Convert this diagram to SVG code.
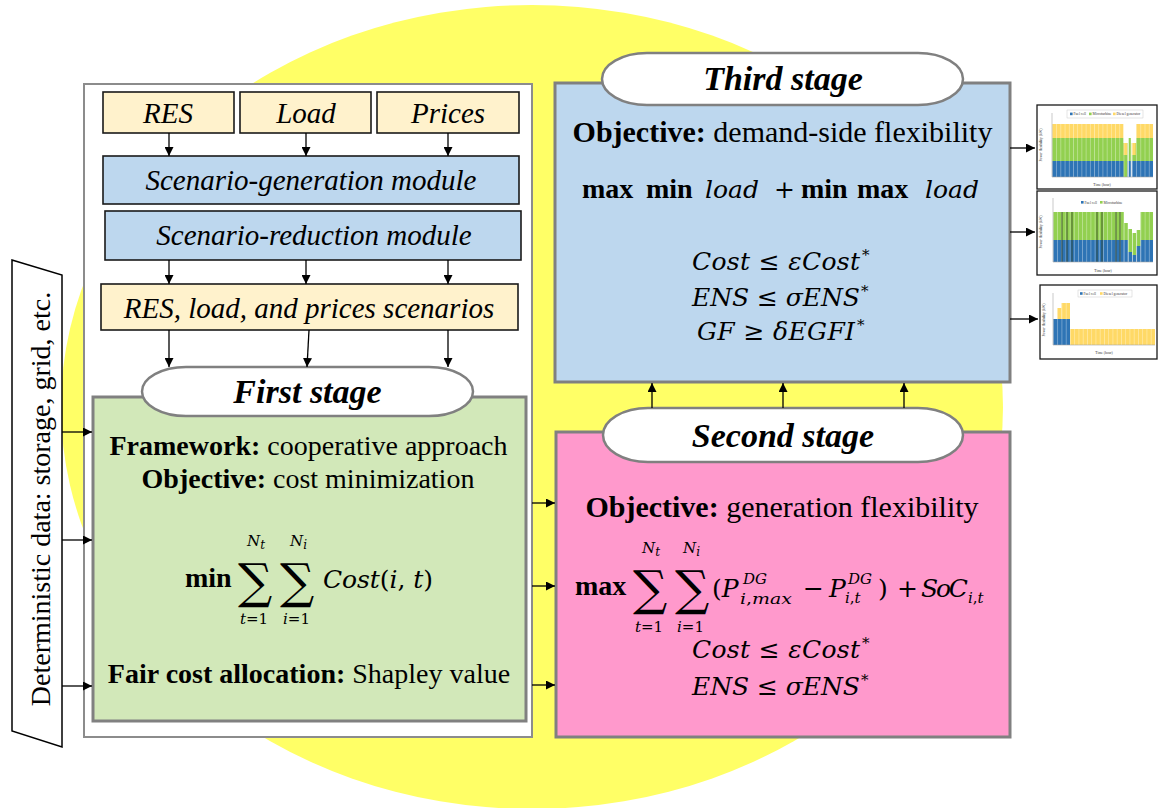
<svg xmlns="http://www.w3.org/2000/svg" width="1158" height="808" viewBox="0 0 1158 808">
  <defs>
    <style>
      .t { font-family: "Liberation Serif", "Times New Roman", serif; font-size: 28px; fill: #000; }
      .it { font-style: italic; font-size: 29px; }
      .b { font-weight: bold; }
      .big { font-size: 30px; }
      .stage { font-family: "Liberation Serif", serif; font-weight: bold; font-style: italic; font-size: 34px; fill: #000; }
      .m { font-family: "DejaVu Serif", serif; font-style: italic; font-size: 25px; fill: #000; }
      .up { font-style: normal; }
      .sum { font-family: "DejaVu Serif", serif; font-size: 48px; fill: #000; }
      .sm { font-family: "DejaVu Serif", serif; font-style: italic; font-size: 15px; fill: #000; }
      .st { font-family: "DejaVu Serif", serif; font-style: normal; font-size: 15px; fill: #000; }
      .in { fill: #fff2cc; stroke: #1a1a1a; stroke-width: 1.6; }
      .mod { fill: #bdd7ee; stroke: #1a1a1a; stroke-width: 1.6; }
      .stbox { stroke: #808080; stroke-width: 3; }
      .pill { fill: #fff; stroke: #808080; stroke-width: 2.5; }
      .arr { stroke: #000; stroke-width: 1.3; fill: none; marker-end: url(#ah); }
      .cf { fill: #fff; stroke: #1a1a1a; stroke-width: 1.3; }
      .ax { stroke: #a6a6a6; stroke-width: 0.6; }
      .lg { font-family: "Liberation Serif", serif; font-size: 3.6px; fill: #333; }
      .blu { fill: #2e74b5; }
      .grn { fill: #92d050; }
      .yel { fill: #ffd966; }
    </style>
    <marker id="ah" viewBox="0 0 10 10" refX="10" refY="5" markerWidth="9" markerHeight="9" markerUnits="userSpaceOnUse" orient="auto">
      <path d="M0,0 L10,5 L0,10 z" fill="#000"/>
    </marker>
    <pattern id="sep1" x="1052" y="0" width="4.2083" height="10" patternUnits="userSpaceOnUse">
      <rect x="0" y="0" width="0.45" height="10" fill="#fff" opacity="0.7"/>
    </pattern>
    <pattern id="sep2" x="1053" y="0" width="4.1667" height="10" patternUnits="userSpaceOnUse">
      <rect x="0" y="0" width="0.45" height="10" fill="#fff" opacity="0.7"/>
    </pattern>
    <pattern id="sep3" x="1053" y="0" width="4.25" height="10" patternUnits="userSpaceOnUse">
      <rect x="0" y="0" width="0.45" height="10" fill="#fff" opacity="0.7"/>
    </pattern>
  </defs>

  <!-- background disc -->
  <ellipse cx="532" cy="407" rx="471" ry="402" fill="#ffff66"/>

  <!-- left panel frame -->
  <g id="scenario-panel">
    <rect x="84" y="84" width="448" height="653" fill="#fff" stroke="#8c8c8c" stroke-width="2"/>
  </g>

  <!-- input data -->
  <g id="res">
    <rect class="in" x="103" y="92" width="131" height="41"/>
    <text class="t it" x="168" y="123" text-anchor="middle">RES</text>
  </g>
  <g id="load">
    <rect class="in" x="240" y="92" width="131" height="41"/>
    <text class="t it" x="306" y="123" text-anchor="middle">Load</text>
  </g>
  <g id="prices">
    <rect class="in" x="377" y="92" width="142" height="41"/>
    <text class="t it" x="448" y="123" text-anchor="middle">Prices</text>
  </g>

  <g id="scenario-generation">
    <rect class="mod" x="103" y="156" width="416" height="48"/>
    <text class="t it" x="311" y="190" text-anchor="middle">Scenario-generation module</text>
  </g>
  <g id="scenario-reduction">
    <rect class="mod" x="105" y="211" width="416" height="49"/>
    <text class="t it" x="314" y="245" text-anchor="middle">Scenario-reduction module</text>
  </g>
  <g id="scenarios">
    <rect class="in" x="101" y="284" width="417" height="46"/>
    <text class="t it" x="309" y="318" text-anchor="middle">RES, load, and prices scenarios</text>
  </g>

  <!-- deterministic data input -->
  <g id="deterministic-data">
    <polygon points="12,260 62,275 62,747 12,731" fill="#fff" stroke="#000" stroke-width="1.5"/>
    <text class="t" font-size="31" transform="translate(49.5,499) rotate(-90)" text-anchor="middle">Deterministic data: storage, grid, etc.</text>
  </g>

  <!-- first stage -->
  <g id="first-stage">
    <rect class="stbox" x="93" y="397" width="433" height="324" fill="#d2e8b9"/>
    <rect class="pill" x="142" y="367" width="331" height="49" rx="44" ry="24.5"/>
    <text class="stage" font-size="26.5" x="307.5" y="403" text-anchor="middle">First stage</text>
    <text class="t" x="308.5" y="455" text-anchor="middle"><tspan class="b">Framework:</tspan> cooperative approach</text>
    <text class="t" x="308" y="488" text-anchor="middle"><tspan class="b">Objective:</tspan> cost minimization</text>
    <text class="t b" font-size="29" x="185" y="587">min</text>
    <text class="sum" x="238" y="597.5">∑</text>
    <text class="sum" x="280" y="597.5">∑</text>
    <text class="sm" x="247" y="546">N<tspan font-size="12" dy="3">t</tspan></text>
    <text class="sm" x="290" y="546">N<tspan font-size="12" dy="3">i</tspan></text>
    <text class="sm" x="240" y="624">t<tspan class="up">=1</tspan></text>
    <text class="sm" x="283" y="624">i<tspan class="up">=1</tspan></text>
    <text class="m" x="323" y="588" textLength="110" lengthAdjust="spacing">Cost<tspan class="up">(</tspan>i<tspan class="up">, </tspan>t<tspan class="up">)</tspan></text>
    <text class="t" x="309" y="683" text-anchor="middle"><tspan class="b">Fair cost allocation:</tspan> Shapley value</text>
  </g>

  <!-- second stage -->
  <g id="second-stage">
    <rect class="stbox" x="556" y="432" width="454" height="305" fill="#ff99cc"/>
    <rect class="pill" x="603" y="408" width="360" height="54" rx="45" ry="27"/>
    <text class="stage" x="783" y="447" text-anchor="middle">Second stage</text>
    <text class="t big" x="782" y="517" text-anchor="middle"><tspan class="b">Objective:</tspan> generation flexibility</text>
    <text class="t b" font-size="29" x="575" y="595">max</text>
    <text class="sum" x="633" y="605">∑</text>
    <text class="sum" x="675" y="605">∑</text>
    <text class="sm" x="642" y="553">N<tspan font-size="12" dy="3">t</tspan></text>
    <text class="sm" x="683" y="553">N<tspan font-size="12" dy="3">i</tspan></text>
    <text class="sm" x="635" y="632">t<tspan class="up">=1</tspan></text>
    <text class="sm" x="677" y="632">i<tspan class="up">=1</tspan></text>
    <text class="m" x="712" y="597"><tspan class="up">(</tspan>P</text>
    <text class="sm" x="743" y="584">DG</text>
    <text class="sm" font-size="17" x="740" y="604" textLength="52" lengthAdjust="spacingAndGlyphs">i<tspan class="up">,</tspan>max</text>
    <text class="m up" x="803" y="597">−</text>
    <text class="m" x="829" y="597">P</text>
    <text class="sm" x="848" y="584">DG</text>
    <text class="sm" x="845" y="603">i<tspan class="up">,</tspan>t</text>
    <text class="m up" x="878" y="597">)</text>
    <text class="m up" x="897" y="597">+</text>
    <text class="m" x="921" y="597" textLength="47">SoC</text>
    <text class="sm" x="968" y="603">i<tspan class="up">,</tspan>t</text>
    <text class="m" x="692" y="658" textLength="168" lengthAdjust="spacing">Cost <tspan class="up">≤ </tspan>εCost</text>
    <text class="st" x="862" y="648">*</text>
    <text class="m" x="692" y="695" textLength="168" lengthAdjust="spacing">ENS <tspan class="up">≤ </tspan>σENS</text>
    <text class="st" x="861" y="685">*</text>
  </g>

  <!-- third stage -->
  <g id="third-stage">
    <rect class="stbox" x="555" y="83" width="455" height="299" fill="#bdd7ee"/>
    <rect class="pill" x="602" y="53" width="361" height="52" rx="45" ry="26"/>
    <text class="stage" x="783" y="90" text-anchor="middle">Third stage</text>
    <text class="t big" x="782.5" y="142" text-anchor="middle"><tspan class="b">Objective:</tspan> demand-side flexibility</text>
    <text class="t b" font-size="30" x="582" y="198">max</text>
    <text class="t b" font-size="30" x="646" y="198">min</text>
    <text class="m" x="705" y="198">load</text>
    <text class="m up" x="774" y="198">+</text>
    <text class="t b" font-size="30" x="801" y="198">min</text>
    <text class="t b" font-size="30" x="857" y="198">max</text>
    <text class="m" x="925" y="198">load</text>
    <text class="m" x="692" y="270" textLength="168" lengthAdjust="spacing">Cost <tspan class="up">≤ </tspan>εCost</text>
    <text class="st" x="862" y="260">*</text>
    <text class="m" x="692" y="306" textLength="168" lengthAdjust="spacing">ENS <tspan class="up">≤ </tspan>σENS</text>
    <text class="st" x="861" y="296">*</text>
    <text class="m" x="697" y="340" textLength="158" lengthAdjust="spacing">GF <tspan class="up">≥ </tspan>δEGFI</text>
    <text class="st" x="857" y="330">*</text>
  </g>

  <!-- result charts -->
  <g id="chart-dispatch-1">
    <rect class="cf" x="1037" y="105" width="120" height="84"/>
    <rect class="blu" x="1052" y="161" width="101" height="16"/>
    <rect class="grn" x="1052" y="138" width="101" height="23"/>
    <rect class="yel" x="1052" y="124" width="101" height="14"/>
    <rect x="1123.4" y="123" width="12.7" height="20" fill="#fff"/>
    <rect class="yel" x="1123.6" y="143" width="3.8" height="12"/>
    <rect class="grn" x="1123.6" y="155" width="3.8" height="22"/>
    <rect x="1127.6" y="138" width="4.2" height="39" fill="#fff"/>
    <rect class="grn" x="1128.6" y="138" width="2.2" height="23"/>
    <rect class="blu" x="1128.6" y="161" width="2.2" height="16"/>
    <rect class="yel" x="1131.9" y="143" width="3.8" height="12"/>
    <rect class="grn" x="1131.9" y="155" width="3.8" height="6"/>
    <rect x="1052" y="124" width="101" height="53" fill="url(#sep1)"/>
    <line class="ax" x1="1052" y1="113" x2="1052" y2="177"/>
    <line class="ax" x1="1052" y1="177" x2="1153" y2="177"/>
    <rect x="1067" y="110" width="76" height="8" fill="#fff" stroke="#bfbfbf" stroke-width="0.4"/>
    <rect class="blu" x="1070" y="112.6" width="2.6" height="2.6"/>
    <text class="lg" x="1073.5" y="115.3">Fuel cell</text>
    <rect class="grn" x="1089" y="112.6" width="2.6" height="2.6"/>
    <text class="lg" x="1092.5" y="115.3">Microturbine</text>
    <rect class="yel" x="1113" y="112.6" width="2.6" height="2.6"/>
    <text class="lg" x="1116.5" y="115.3">Diesel generator</text>
    <text class="lg" x="1102" y="186" text-anchor="middle">Time (hour)</text>
    <text class="lg" transform="translate(1042,145) rotate(-90)" text-anchor="middle">Power flexibility (kW)</text>
  </g>

  <g id="chart-dispatch-2">
    <rect class="cf" x="1037" y="191" width="120" height="84"/>
    <rect class="blu" x="1053" y="240" width="100" height="22"/>
    <rect class="grn" x="1053" y="212" width="100" height="28"/>
    <rect x="1123.8" y="211" width="16.7" height="51" fill="#fff"/>
    <rect class="grn" x="1124" y="223" width="3.8" height="17"/>
    <rect class="blu" x="1124" y="240" width="3.8" height="22"/>
    <rect class="grn" x="1128.2" y="229" width="3.8" height="23"/>
    <rect class="blu" x="1128.2" y="252" width="3.8" height="10"/>
    <rect class="grn" x="1132.4" y="233" width="3.8" height="22"/>
    <rect class="blu" x="1132.4" y="255" width="3.8" height="7"/>
    <rect class="grn" x="1136.6" y="230" width="3.8" height="16"/>
    <rect class="blu" x="1136.6" y="246" width="3.8" height="16"/>
    <rect x="1053" y="212" width="100" height="50" fill="url(#sep2)"/>
    <g stroke="#2b3a1c" stroke-width="0.8">
      <line x1="1062" y1="212" x2="1062" y2="262"/>
      <line x1="1067" y1="212" x2="1067" y2="262"/>
      <line x1="1072" y1="212" x2="1072" y2="262"/>
      <line x1="1097" y1="212" x2="1097" y2="262"/>
      <line x1="1102" y1="212" x2="1102" y2="262"/>
      <line x1="1116" y1="212" x2="1116" y2="262"/>
      <line x1="1120" y1="212" x2="1120" y2="262"/>
    </g>
    <line class="ax" x1="1053" y1="198" x2="1053" y2="262"/>
    <line class="ax" x1="1053" y1="262" x2="1153" y2="262"/>
    <rect class="blu" x="1081" y="201" width="2.6" height="2.6"/>
    <text class="lg" x="1084.5" y="203.7">Fuel cell</text>
    <rect class="grn" x="1100" y="201" width="2.6" height="2.6"/>
    <text class="lg" x="1103.5" y="203.7">Microturbine</text>
    <text class="lg" x="1103" y="272" text-anchor="middle">Time (hour)</text>
    <text class="lg" transform="translate(1042,232) rotate(-90)" text-anchor="middle">Power flexibility (kW)</text>
  </g>

  <g id="chart-dispatch-3">
    <rect class="cf" x="1040" y="285" width="117" height="74"/>
    <rect class="blu" x="1053" y="319" width="17" height="26"/>
    <rect class="yel" x="1057.25" y="308" width="4.25" height="11"/>
    <rect class="yel" x="1061.5" y="303" width="8.5" height="16"/>
    <rect class="yel" x="1070" y="329" width="85" height="16"/>
    <rect x="1053" y="303" width="102" height="42" fill="url(#sep3)"/>
    <line class="ax" x1="1053" y1="293" x2="1053" y2="345"/>
    <line class="ax" x1="1053" y1="345" x2="1155" y2="345"/>
    <rect x="1078" y="290" width="54" height="7" fill="#fff" stroke="#bfbfbf" stroke-width="0.4"/>
    <rect class="blu" x="1080" y="292.2" width="2.6" height="2.6"/>
    <text class="lg" x="1083.5" y="294.9">Fuel cell</text>
    <rect class="yel" x="1100" y="292.2" width="2.6" height="2.6"/>
    <text class="lg" x="1103.5" y="294.9">Diesel generator</text>
    <text class="lg" x="1104" y="354" text-anchor="middle">Time (hour)</text>
    <text class="lg" transform="translate(1045,320) rotate(-90)" text-anchor="middle">Power flexibility (kW)</text>
  </g>

  <!-- connectors -->
  <g id="connectors">
    <path class="arr" d="M169,133 V156"/>
    <path class="arr" d="M306,133 V156"/>
    <path class="arr" d="M448,133 V156"/>
    <path class="arr" d="M169,260 V284"/>
    <path class="arr" d="M306,260 V284"/>
    <path class="arr" d="M448,260 V284"/>
    <path class="arr" d="M169,330 V367"/>
    <path class="arr" d="M309,330 L307,367"/>
    <path class="arr" d="M448,330 V367"/>
    <path class="arr" d="M62,432 H92"/>
    <path class="arr" d="M62,540 H92"/>
    <path class="arr" d="M62,686 H92"/>
    <path class="arr" d="M532,503 H555"/>
    <path class="arr" d="M532,586 H555"/>
    <path class="arr" d="M532,685 H555"/>
    <path class="arr" d="M652,408 V383"/>
    <path class="arr" d="M783,408 V383"/>
    <path class="arr" d="M904,408 V383"/>
    <path class="arr" d="M1010,148 H1035"/>
    <path class="arr" d="M1010,232 H1035"/>
    <path class="arr" d="M1010,319 H1038"/>
  </g>
</svg>
